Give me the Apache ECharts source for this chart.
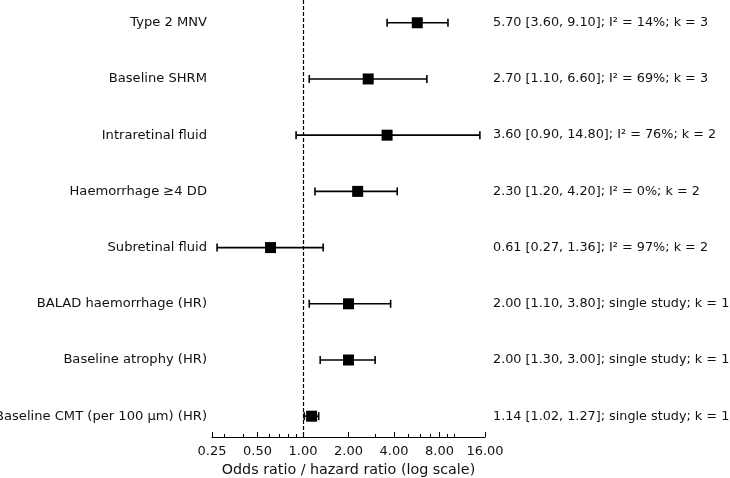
<!DOCTYPE html>
<html>
<head>
<meta charset="utf-8">
<script src="https://cdn.jsdelivr.net/npm/echarts@6/dist/echarts.min.js"></script>
<style>
  html, body { margin: 0; padding: 0; background: #fff; }
  #chart { width: 730px; height: 478px; }
</style>
</head>
<body>
<div id="chart"></div>
<script>
// rows, top to bottom
var labels = ['Type 2 MNV', 'Baseline SHRM', 'Intraretinal fluid', 'Haemorrhage \u22654 DD',
  'Subretinal fluid', 'BALAD haemorrhage (HR)', 'Baseline atrophy (HR)', 'Baseline CMT (per 100 \u00b5m) (HR)']
var estimate = [5.70, 2.70, 3.60, 2.30, 0.61, 2.00, 2.00, 1.14]
var lower = [3.60, 1.10, 0.90, 1.20, 0.27, 1.10, 1.30, 1.02]
var upper = [9.10, 6.60, 14.80, 4.20, 1.36, 3.80, 3.00, 1.27]
var i2 = [14, 69, 76, 0, 97, null, null, null]
var studies = [3, 3, 2, 2, 2, 1, 1, 1]

var majorTicks = [0.25, 0.5, 1, 2, 4, 8, 16]
var minorTicks = [0.3, 0.4, 0.6, 0.7, 0.8, 0.9, 3, 5, 6, 7, 9, 10]

var font = 'DejaVu Sans'
var txt = '#111'

// annotation text at the right side
function annot (i) {
  var s = estimate[i].toFixed(2) + ' [' + lower[i].toFixed(2) + ', ' + upper[i].toFixed(2) + ']; '
  if (i2[i] === null) {
    s += 'single study'
  } else {
    s += 'I\u00b2 = ' + i2[i] + '%'
  }
  return s + '; k = ' + studies[i]
}

var rowIdx = labels.map(function (l, i) { return i })
var yMin = -0.405
var yMax = 7.37

function yAxisCfg (pos, fmt) {
  return {
    type: 'value',
    position: pos,
    inverse: true,
    min: yMin,
    max: yMax,
    axisLine: { show: false },
    axisTick: { show: false },
    splitLine: { show: false },
    axisLabel: {
      customValues: rowIdx,
      formatter: fmt,
      fontFamily: font,
      fontSize: pos === 'left' ? 13.1 : 12.8,
      color: txt,
      margin: pos === 'left' ? 5 : 8
    }
  }
}

var myChart = echarts.init(document.getElementById('chart'))

var option = {
  animation: false,
  backgroundColor: '#fff',
  grid: { left: 212, right: 245, top: 0, bottom: 41, containLabel: false, outerBoundsMode: 'none' },
  xAxis: [
    {
      type: 'log',
      logBase: 2,
      min: 0.25,
      max: 16,
      position: 'bottom',
      name: 'Odds ratio / hazard ratio (log scale)',
      nameLocation: 'middle',
      nameGap: 26,
      nameTextStyle: { fontFamily: font, fontSize: 14.3, color: txt },
      axisLine: { onZero: false, lineStyle: { color: '#000', width: 1 } },
      axisTick: { inside: true, length: 5, customValues: majorTicks, lineStyle: { color: '#000' } },
      axisLabel: {
        customValues: majorTicks,
        formatter: function (v) { return Number(v).toFixed(2) },
        fontFamily: font,
        fontSize: 13,
        color: txt,
        margin: 8
      },
      splitLine: { show: false },
      minorTick: { show: false }
    },
    {
      type: 'log',
      logBase: 2,
      min: 0.25,
      max: 16,
      position: 'bottom',
      axisLine: { show: false, onZero: false },
      axisTick: { inside: true, length: 3, customValues: minorTicks, lineStyle: { color: '#000' } },
      axisLabel: { show: false },
      splitLine: { show: false }
    }
  ],
  yAxis: [
    yAxisCfg('left', function (v) { return labels[v] }),
    yAxisCfg('right', function (v) { return annot(v) })
  ],
  series: [
    {
      type: 'custom',
      xAxisIndex: 0,
      yAxisIndex: 0,
      data: rowIdx.map(function (i) { return [lower[i], upper[i], i] }),
      encode: { x: [0, 1], y: 2 },
      renderItem: function (params, api) {
        var a = api.coord([api.value(0), api.value(2)])
        var b = api.coord([api.value(1), api.value(2)])
        var cap = 4
        var st = { stroke: '#000', lineWidth: 1.6 }
        return {
          type: 'group',
          children: [
            { type: 'line', shape: { x1: a[0], y1: a[1], x2: b[0], y2: b[1] }, style: st },
            { type: 'line', shape: { x1: a[0], y1: a[1] - cap, x2: a[0], y2: a[1] + cap }, style: st },
            { type: 'line', shape: { x1: b[0], y1: b[1] - cap, x2: b[0], y2: b[1] + cap }, style: st }
          ]
        }
      },
      z: 2
    },
    {
      type: 'scatter',
      xAxisIndex: 0,
      yAxisIndex: 0,
      symbol: 'rect',
      symbolSize: 11,
      itemStyle: { color: '#000', opacity: 1 },
      data: rowIdx.map(function (i) { return [estimate[i], i] }),
      markLine: {
        silent: true,
        symbol: 'none',
        label: { show: false },
        lineStyle: { color: '#000', type: [4, 2], width: 1.2 },
        data: [{ xAxis: 1 }]
      },
      z: 3
    }
  ]
}

myChart.setOption(option)
</script>
</body>
</html>
